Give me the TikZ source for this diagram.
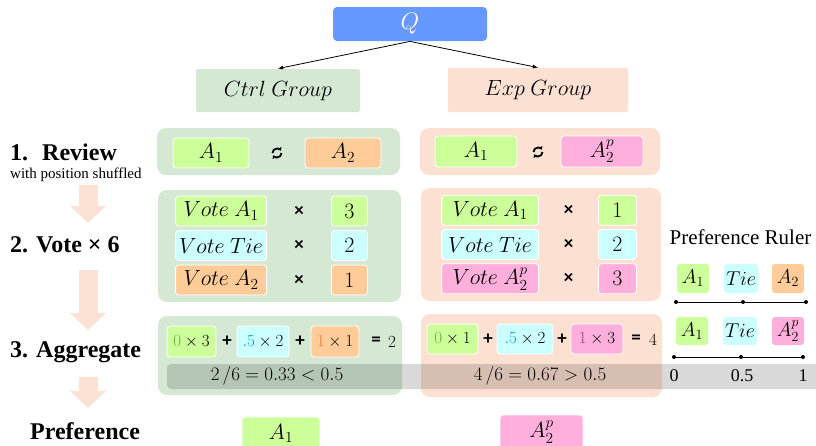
\RequirePackage{fix-cm}
\documentclass[tikz,border=0pt]{standalone}
\usepackage{amsmath}
\usepackage{fontspec}
\setmainfont{Liberation Serif}
\newfontfamily\opfont{Carlito}
\usepackage{tikz}
\usetikzlibrary{matrix,shapes,arrows,arrows.meta,positioning,calc}

\definecolor{qblue}{RGB}{102,153,255}
\definecolor{ctrlbg}{RGB}{213,232,212}
\definecolor{expbg}{RGB}{252,224,210}
\definecolor{agreen}{RGB}{204,255,153}
\definecolor{aorange}{RGB}{255,204,153}
\definecolor{apink}{RGB}{255,175,220}
\definecolor{tiecyan}{RGB}{204,255,255}
\definecolor{flowpeach}{RGB}{251,226,213}
\definecolor{dgreen}{RGB}{112,173,71}
\definecolor{dblue}{RGB}{0,153,221}
\definecolor{dorange}{RGB}{237,125,49}
\definecolor{dpurple}{RGB}{170,50,150}

\newcommand{\fsz}[1]{\fontsize{#1}{#1}\selectfont}

\tikzset{
  tag/.style={draw=white, line width=0.8pt, rounded corners=3pt, inner sep=0pt,
              minimum height=30pt, font=\fsz{22}},
  op/.style={font=\opfont\bfseries\fsz{19}, inner sep=0pt, minimum width=20pt},
  steplbl/.style={font=\bfseries\fsz{24}, anchor=west, inner sep=0pt},
  stepflow/.style={draw=flowpeach, line width=19pt, -{Triangle[width=35pt,length=17pt]}},
  swapicon/.pic={
    \draw[line width=1.8pt, -{Triangle[length=3pt,width=4.5pt]}] (180:4.5) arc (180:330:4.5);
    \draw[line width=1.8pt, -{Triangle[length=3pt,width=4.5pt]}] (0:4.5) arc (0:150:4.5);
  }
}

\begin{document}
\begin{tikzpicture}[x=1pt,y=-1pt]
	\clip (0,0) rectangle (816,445);

	% query and the two groups
	\node[tag, draw=none, fill=qblue, rounded corners=4pt, minimum width=154pt, minimum height=34pt,
	      text=white, font=\fsz{24}] (q) at (410,24) {$Q$};
	\node[tag, draw=none, fill=ctrlbg, rounded corners=2pt, minimum width=164pt, minimum height=43pt,
	      font=\fsz{22}] (ctrl) at (278,90.5) {$Ctrl\ Group$};
	\node[tag, draw=none, fill=expbg, rounded corners=2pt, minimum width=180pt, minimum height=44pt,
	      font=\fsz{22}] (exp) at (538,90) {$Exp\ Group$};
	\draw[-latex, line width=0.8pt] (q.south)--(ctrl.north);
	\draw[-latex, line width=0.8pt] (q.south)--(exp.north);

	% step labels on the left
	\node[steplbl] (review) at (10,152) {1.\hspace{14pt}Review};
	\node[font=\fsz{15}, anchor=west, inner sep=0pt] (shuffle) at (10,175) {with position shuffled};
	\node[steplbl] (vote) at (10,245) {2. Vote × 6};
	\node[steplbl] (aggr) at (10,352) {3. Aggregate};
	\node[steplbl] (pref) at (30,431) {Preference};
	\coordinate (f1a) at (88,185); \coordinate (f1b) at (88,223);
	\coordinate (f2a) at (88,270); \coordinate (f2b) at (88,330);
	\coordinate (f3a) at (88,377); \coordinate (f3b) at (88,408);
	\draw[stepflow] (f1a)--(f1b);
	\draw[stepflow] (f2a)--(f2b);
	\draw[stepflow] (f3a)--(f3b);

	% panels
	\fill[ctrlbg, rounded corners=9pt] (157,128) rectangle (400,175);
	\fill[expbg, rounded corners=9pt] (420,128) rectangle (660,175);
	\fill[ctrlbg, rounded corners=9pt] (158,190) rectangle (401,302);
	\fill[expbg, rounded corners=9pt] (421,188) rectangle (661,301);
	\fill[ctrlbg, rounded corners=9pt] (158,316) rectangle (402,395);
	\fill[expbg, rounded corners=9pt] (421,314) rectangle (662,397);

	% 1. review
	\node[tag, fill=agreen, minimum width=76pt] (cra) at (211,153) {$A_1$};
	\node[tag, fill=aorange, minimum width=76pt] (crb) at (343,153) {$A_2$};
	\pic at (277,153) {swapicon};
	\node[tag, fill=agreen, minimum width=82pt, minimum height=31pt] (era) at (476,151.5) {$A_1$};
	\node[tag, fill=apink, minimum width=82pt, minimum height=31pt] (erb) at (602,151.5) {$A_2^p$};
	\pic at (538,152) {swapicon};

	% 2. votes
	\matrix (cv) at (271.5,245.5) [matrix of nodes, column sep=22pt, row sep=3.7pt, inner sep=0pt,
				nodes={anchor=center}]
	{
	|[tag, fill=agreen, minimum width=91pt]| $Vote\ A_1$ & |[op]| × & |[tag, fill=agreen, minimum width=36pt]| $3$ \\
	|[tag, fill=tiecyan, minimum width=91pt]| $Vote\ Tie$ & |[op]| × & |[tag, fill=tiecyan, minimum width=36pt]| $2$ \\
	|[tag, fill=aorange, minimum width=91pt]| $Vote\ A_2$ & |[op]| × & |[tag, fill=aorange, minimum width=36pt]| $1$ \\
	};
	\matrix (ev) at (539,244.5) [matrix of nodes, column sep=19.5pt, row sep=3.5pt, inner sep=0pt,
				nodes={anchor=center}]
	{
	|[tag, fill=agreen, minimum width=97pt]| $Vote\ A_1$ & |[op]| × & |[tag, fill=agreen, minimum width=38pt]| $1$ \\
	|[tag, fill=tiecyan, minimum width=97pt]| $Vote\ Tie$ & |[op]| × & |[tag, fill=tiecyan, minimum width=38pt]| $2$ \\
	|[tag, fill=apink, minimum width=97pt]| $Vote\ A_2^p$ & |[op]| × & |[tag, fill=apink, minimum width=38pt]| $3$ \\
	};

	% 3. aggregate
	\fill[black, opacity=0.15, rounded corners=4pt] (167,364) rectangle (840,389);
	\node[tag, fill=agreen, minimum width=49pt, minimum height=31pt, font=\fsz{17}] (cs1) at (191.5,341.5) {${\color{dgreen}0}\times 3$};
	\node[op] (cp1) at (227,341.5) {+};
	\node[tag, fill=tiecyan, minimum width=52pt, minimum height=31pt, font=\fsz{17}] (cs2) at (263,341.5) {${\color{dblue}.5}\times 2$};
	\node[op] (cp2) at (300,341.5) {+};
	\node[tag, fill=aorange, minimum width=48pt, minimum height=31pt, font=\fsz{17}] (cs3) at (335,341.5) {${\color{dorange}1}\times 1$};
	\node[op] (ceq) at (376,341.5) {=};
	\node[font=\fsz{17}, inner sep=0pt] (csum) at (392,342) {$2$};
	\node[font=\fsz{19}] (cres) at (277,376) {$2\,/6 = 0.33 < 0.5$};

	\node[tag, fill=agreen, minimum width=51pt, font=\fsz{17}] (es1) at (452.5,339) {${\color{dgreen}0}\times 1$};
	\node[op] (ep1) at (488,339) {+};
	\node[tag, fill=tiecyan, minimum width=56pt, font=\fsz{17}] (es2) at (525,339) {${\color{dblue}.5}\times 2$};
	\node[op] (ep2) at (562,339) {+};
	\node[tag, fill=apink, minimum width=52pt, font=\fsz{17}] (es3) at (597,339) {${\color{dpurple}1}\times 3$};
	\node[op] (eeq) at (636,339) {=};
	\node[font=\fsz{17}, inner sep=0pt] (esum) at (653,340) {$4$};
	\node[font=\fsz{19}] (eres) at (540,376) {$4\,/6 = 0.67 > 0.5$};

	% preference
	\node[tag, fill=agreen, minimum width=78pt, minimum height=33pt] (cpref) at (281,433.5) {$A_1$};
	\node[tag, fill=apink, minimum width=83pt, minimum height=34pt] (epref) at (541.5,432) {$A_2^p$};

	% preference ruler
	\node[font=\fsz{21}] (ruler) at (740.5,237) {Preference Ruler};
	\node[tag, draw=none, fill=agreen, minimum width=32pt, minimum height=29pt, font=\fsz{20}] (ra1) at (693,278.5) {$A_1$};
	\node[tag, draw=none, fill=tiecyan, minimum width=34pt, minimum height=29pt, font=\fsz{20}] (rt1) at (741,278.5) {$Tie$};
	\node[tag, draw=none, fill=aorange, minimum width=32pt, minimum height=29pt, font=\fsz{20}] (rb1) at (788,278.5) {$A_2$};
	\node[tag, draw=none, fill=agreen, minimum width=32pt, minimum height=28pt, font=\fsz{20}] (ra2) at (692,331) {$A_1$};
	\node[tag, draw=none, fill=tiecyan, minimum width=34pt, minimum height=28pt, font=\fsz{20}] (rt2) at (740,331) {$Tie$};
	\node[tag, draw=none, fill=apink, minimum width=32pt, minimum height=28pt, font=\fsz{20}] (rb2) at (788,331) {$A_2^p$};
	\coordinate (l1a) at (676,302); \coordinate (l1m) at (743,302); \coordinate (l1b) at (806,302);
	\coordinate (l2a) at (674,357); \coordinate (l2m) at (741,357); \coordinate (l2b) at (803,357);
	\draw[line width=1pt] (l1a)--(l1b);
	\draw[line width=1pt] (l2a)--(l2b);
	\foreach \p in {l1a,l1m,l1b,l2a,l2m,l2b} \fill (\p) circle (2);
	\node[font=\fsz{18}] (t0) at (674,376) {0};
	\node[font=\fsz{18}] (t5) at (742,376) {0.5};
	\node[font=\fsz{18}] (t1) at (803,376) {1};
\end{tikzpicture}
\end{document}
